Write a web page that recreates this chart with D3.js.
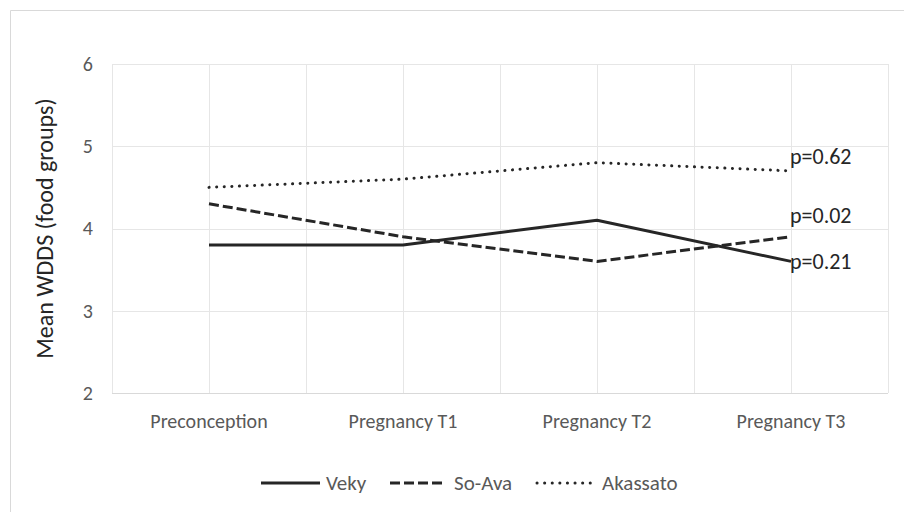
<!DOCTYPE html>
<html>
<head>
<meta charset="utf-8">
<script src="https://cdn.jsdelivr.net/npm/d3@7"></script>
<style>
  body { margin: 0; background: #fff; }
  svg text { font-family: Carlito, "Open Sans", "Noto Sans", sans-serif; }
</style>
</head>
<body>
<div id="chart"></div>
<script>
// data
const categories = ["Preconception", "Pregnancy T1", "Pregnancy T2", "Pregnancy T3"];
const seriesNames = ["Veky", "So-Ava", "Akassato"];
const veky = [3.8, 3.8, 4.1, 3.6];
const soAva = [4.3, 3.9, 3.6, 3.9];
const akassato = [4.5, 4.6, 4.8, 4.7];
const pLabels = ["p=0.21", "p=0.02", "p=0.62"];
const yTicks = [2, 3, 4, 5, 6];

const width = 904, height = 512;
const margin = {top: 64, right: 16, bottom: 119, left: 112};
const ink = "#262626";

const series = [
    {name: seriesNames[0], values: veky, label: pLabels[0], dash: null, cap: "butt", dy: 0},
    {name: seriesNames[1], values: soAva, label: pLabels[1], dash: "10,4", cap: "butt", dy: -21},
    {name: seriesNames[2], values: akassato, label: pLabels[2], dash: "0.1,7.5", cap: "round", dy: -15}
];

const svg = d3.select("#chart").append("svg")
    .attr("width", width)
    .attr("height", height);

// chart area frame (only left and top edges show in the crop)
svg.append("path")
    .attr("d", "M10.5," + height + "V10.5H" + width)
    .attr("fill", "none")
    .attr("stroke", "#d9d9d9")
    .attr("stroke-width", 1);

const g = svg.append("g")
    .attr("transform", "translate(" + margin.left + "," + margin.top + ")");

const w = width - margin.left - margin.right;
const h = height - margin.top - margin.bottom;

var x = d3.scaleBand().domain(categories).range([0, w]);
var y = d3.scaleLinear().domain([2, 6]).range([h, 0]);
const cx = d => x(d) + x.bandwidth() / 2;

// horizontal gridlines
g.selectAll(".hgrid")
    .data(yTicks)
    .enter().append("line")
    .attr("x1", 0).attr("x2", w)
    .attr("y1", d => Math.round(y(d)) + 0.5).attr("y2", d => Math.round(y(d)) + 0.5)
    .attr("stroke", d => d === 2 ? "#d9d9d9" : "#e6e6e6")
    .attr("stroke-width", 1);

// vertical gridlines at category edges and centres
var vlines = [];
categories.forEach(c => { vlines.push(x(c)); vlines.push(cx(c)); });
vlines.push(w);
g.selectAll(".vgrid")
    .data(vlines)
    .enter().append("line")
    .attr("x1", d => Math.round(d) + 0.5).attr("x2", d => Math.round(d) + 0.5)
    .attr("y1", 0).attr("y2", h)
    .attr("stroke", "#e6e6e6")
    .attr("stroke-width", 1);

// y axis tick labels
var yAxis = d3.axisLeft(y).tickValues(yTicks).tickFormat(d3.format("d")).tickSize(0).tickPadding(19);
g.append("g")
    .call(yAxis)
    .call(s => s.select(".domain").remove())
    .selectAll("text")
    .attr("fill", "#595959")
    .style("font-size", "20px");

// x axis tick labels
var xAxis = d3.axisBottom(x).tickSize(0).tickPadding(21);
g.append("g")
    .attr("transform", "translate(0," + h + ")")
    .call(xAxis)
    .call(s => s.select(".domain").remove())
    .selectAll("text")
    .attr("fill", "#595959")
    .style("font-size", "20px");

// y axis title
svg.append("text")
    .attr("transform", "translate(53," + (margin.top + h / 2) + ") rotate(-90)")
    .attr("text-anchor", "middle")
    .attr("fill", ink)
    .style("font-size", "24px")
    .text("Mean WDDS (food groups)");

var line = d3.line()
    .x((d, i) => cx(categories[i]))
    .y(d => y(d));

series.forEach(s => {
    g.append("path")
        .datum(s.values)
        .attr("d", line)
        .attr("fill", "none")
        .attr("stroke", ink)
        .attr("stroke-width", 3)
        .attr("stroke-linecap", s.cap)
        .attr("stroke-linejoin", "round")
        .attr("stroke-dasharray", s.dash);

    const last = s.values.length - 1;
    g.append("text")
        .attr("x", cx(categories[last]) - 1)
        .attr("y", y(s.values[last]) + s.dy)
        .attr("dy", "0.35em")
        .attr("fill", ink)
        .style("font-size", "22px")
        .text(s.label);
});

// legend
const legendX = [261, 390, 537];
const legendLen = [59, 56, 55];
const legendTextX = [326, 454, 602];
const legendY = 483;
series.forEach((s, i) => {
    svg.append("line")
        .attr("x1", legendX[i]).attr("x2", legendX[i] + legendLen[i])
        .attr("y1", legendY).attr("y2", legendY)
        .attr("stroke", ink)
        .attr("stroke-width", 3)
        .attr("stroke-linecap", s.cap)
        .attr("stroke-dasharray", s.dash);
    svg.append("text")
        .attr("x", legendTextX[i])
        .attr("y", legendY)
        .attr("dy", "0.35em")
        .attr("fill", "#595959")
        .style("font-size", "21px")
        .text(s.name);
});
</script>
</body>
</html>
